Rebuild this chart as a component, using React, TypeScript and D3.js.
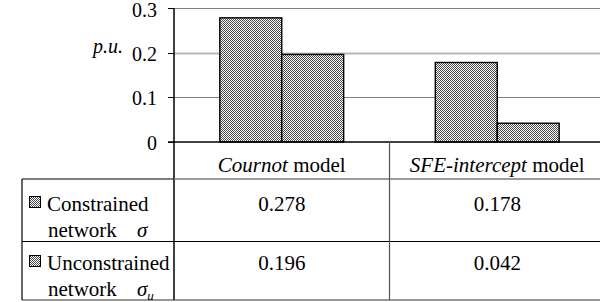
import { useEffect, useRef } from "react";
import * as d3 from "d3";

// chart data
const categories = ["Cournot", "SFE-intercept"];
const seriesNames = ["Constrained", "Unconstrained"];
const constrained = [0.278, 0.178];
const unconstrained = [0.196, 0.042];
const yTicks = [0, 0.1, 0.2, 0.3];

const FONT = '"Liberation Serif"';

export default function App() {
  const ref = useRef<SVGSVGElement>(null);

  useEffect(() => {
    const width = 600;
    const plotLeft = 174;
    const plotRight = 605;
    const plotTop = 8;
    const plotBottom = 142;
    const tableLeft = 22;
    const headerBottom = 179;
    const rowLine = 241.5;
    const tableBottom = 300;

    const svg = d3.select(ref.current);
    svg.selectAll("*").remove();

    const x = d3.scaleBand<string>().domain(categories).range([plotLeft, plotRight]);
    const xs = d3
      .scaleBand<string>()
      .domain(seriesNames)
      .range([0, x.bandwidth()])
      .paddingInner(0)
      .paddingOuter(0.74);
    const y = d3.scaleLinear().domain([0, 0.3]).range([plotBottom, plotTop]);
    const fmt = d3.format(".3f");

    const series = [
      { name: seriesNames[0], values: constrained },
      { name: seriesNames[1], values: unconstrained },
    ];
    const rowBaselines = [
      [211, 237],
      [270, 296],
    ];

    const pat = svg
      .append("defs")
      .append("pattern")
      .attr("id", "checker")
      .attr("width", 2)
      .attr("height", 2)
      .attr("patternUnits", "userSpaceOnUse");
    pat.append("rect").attr("width", 2).attr("height", 2).attr("fill", "#fff");
    pat.append("rect").attr("width", 1).attr("height", 1).attr("fill", "#4a4a4a");
    pat.append("rect").attr("x", 1).attr("y", 1).attr("width", 1).attr("height", 1).attr("fill", "#4a4a4a");

    const line = (x1: number, x2: number, y1: number, y2: number, color: string, w: number) =>
      svg
        .append("line")
        .attr("x1", x1)
        .attr("x2", x2)
        .attr("y1", y1)
        .attr("y2", y2)
        .attr("stroke", color)
        .attr("stroke-width", w);

    const text = (xp: number, yp: number, s: string, size: number) =>
      svg
        .append("text")
        .attr("x", xp)
        .attr("y", yp)
        .attr("fill", "#000")
        .style("font-family", FONT)
        .style("font-size", size + "px")
        .text(s);

    // gridlines
    yTicks
      .filter((t) => t > 0)
      .forEach((t) => {
        const yy = Math.round(y(t)) + 0.5;
        line(plotLeft, width, yy, yy, t === 0.2 ? "#b8b8b8" : "#808080", t === 0.2 ? 2 : 1);
      });

    // bars
    series.forEach((s) => {
      svg
        .selectAll(null)
        .data(s.values)
        .enter()
        .append("rect")
        .attr("x", (_d, i) => (x(categories[i]) as number) + (xs(s.name) as number))
        .attr("y", (d) => y(d))
        .attr("width", xs.bandwidth())
        .attr("height", (d) => plotBottom - y(d))
        .attr("fill", "url(#checker)")
        .attr("stroke", "#000")
        .attr("stroke-width", 1.4);
    });

    // y ticks
    yTicks.forEach((t) => {
      const yy = Math.round(y(t)) + 0.5;
      line(plotLeft - 6, plotLeft, yy, yy, "#000", 1);
      text(157, y(t) + (t === 0.3 ? 9 : 8), t === 0 ? "0" : d3.format(".1f")(t), 20).attr(
        "text-anchor",
        "end"
      );
    });
    text(93, 53, "p.u.", 20).style("font-style", "italic");

    // axes and table lines
    line(plotLeft, plotLeft, plotTop, tableBottom, "#000", 1.5);
    line(plotLeft - 6, width, plotBottom, plotBottom, "#000", 1.5);
    line(tableLeft, plotLeft, headerBottom, headerBottom, "#000", 1.2);
    line(plotLeft, width, headerBottom, headerBottom, "#7a7a7a", 1.5);
    line(tableLeft, width, rowLine, rowLine, "#000", 1.2);
    line(tableLeft, width, tableBottom, tableBottom, "#333", 1.2);
    line(tableLeft, tableLeft, headerBottom, tableBottom, "#000", 1.2);
    const div = x(categories[1]) as number;
    line(div, div, plotBottom, tableBottom, "#555", 1.2);

    // header labels
    categories.forEach((c) => {
      const t = text((x(c) as number) + x.bandwidth() / 2, 172, "", 21).attr("text-anchor", "middle");
      t.append("tspan").style("font-style", "italic").text(c);
      t.append("tspan").text(" model");
    });

    // legend rows + values
    series.forEach((s, r) => {
      svg
        .append("rect")
        .attr("x", 29.5)
        .attr("y", rowBaselines[r][0] - 14.5)
        .attr("width", 11)
        .attr("height", 11)
        .attr("fill", "url(#checker)")
        .attr("stroke", "#000");
      text(47, rowBaselines[r][0], s.name, 21);
      text(48, rowBaselines[r][1], "network", 21);
      const sig = text(137, rowBaselines[r][1], "σ", 21).style("font-style", "italic");
      if (r === 1) sig.append("tspan").attr("dy", 4).style("font-size", "13px").text("u");
      s.values.forEach((v, i) => {
        text((x(categories[i]) as number) + x.bandwidth() / 2, rowBaselines[r][0], fmt(v), 21).attr(
          "text-anchor",
          "middle"
        );
      });
    });
  }, []);

  return (
    <svg
      ref={ref}
      width={600}
      height={302}
      style={{ position: "absolute", left: 0, top: 0, background: "white" }}
    />
  );
}
